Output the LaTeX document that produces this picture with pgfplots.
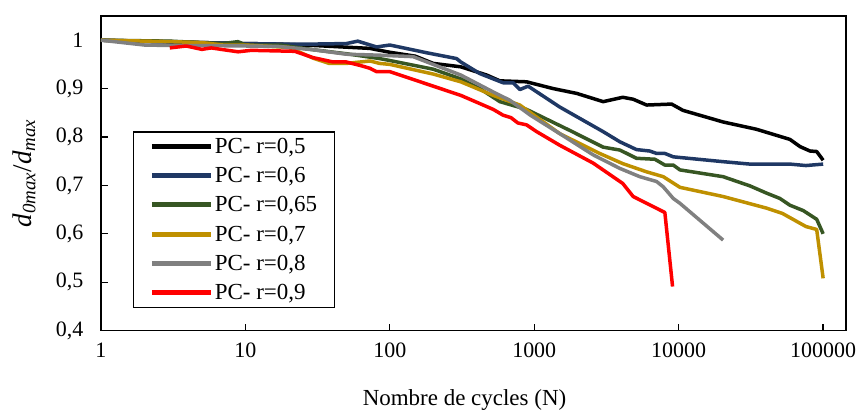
\documentclass[border=0pt]{standalone}
\usepackage{fontspec}
\setmainfont{Liberation Serif}
\usepackage{pgfplots}
\pgfplotsset{compat=1.18}
\usetikzlibrary{calc}
\definecolor{cblue}{HTML}{1F3864}
\definecolor{cgreen}{HTML}{375623}
\definecolor{cyellow}{HTML}{BF9000}
\definecolor{cgray}{HTML}{808080}
\definecolor{cred}{HTML}{FF0000}
\begin{document}
\begin{tikzpicture}
\begin{axis}[
  scale only axis,
  width=746pt, height=315pt,
  xmode=log, xmin=1, xmax=144000,
  ymin=0.4, ymax=1.05,
  xtick={1,10,100,1000,10000,100000},
  xticklabels={1,10,100,1000,10000,100000},
  xminorticks=false,
  ytick={0.4,0.5,0.6,0.7,0.8,0.9,1},
  /pgf/number format/assume math mode=true,
  /pgf/number format/use comma,
  yticklabel style={/pgf/number format/fixed,/pgf/number format/precision=1, xshift=-14pt},
  xticklabel style={yshift=-9pt},
  tick align=inside,
  xtick pos=bottom, ytick pos=left,
  major tick length=7pt,
  tick style={black, line width=1.4pt},
  axis line style={black, line width=1.6pt},
  ticklabel style={font=\fontsize{22}{25}\selectfont},
  label style={font=\fontsize{23}{26}\selectfont},
  xlabel={Nombre de cycles (N)},
  xlabel style={at={(axis description cs:0.488,-0.22)}, anchor=center},
  ylabel={\fontsize{27}{30}\selectfont\textit{d}\textsubscript{\textit{0max}}/\textit{d}\textsubscript{\textit{max}}},
  ylabel style={at={(axis description cs:-0.103,0.5)}, anchor=center},
  legend style={at={(axis description cs:0.0429,0.633)}, anchor=north west,
    font=\fontsize{23}{26}\selectfont, draw=black, line width=1.2pt,
    inner xsep=16pt, inner ysep=4pt, row sep=8.5pt,
    nodes={inner xsep=1.5pt},
    cells={anchor=west}},
  legend image code/.code={\draw[#1, line width=5pt] (0pt,0pt) -- (59pt,0pt);},
  every axis plot/.append style={line width=3.5pt, line join=round},
]
% r = 0.5
\addplot[black] coordinates {
(1,1) (2,0.998) (3,0.997) (5,0.995) (10,0.993) (17,0.992) (30,0.989) (47,0.986) (73,0.983) (100,0.975) (150,0.967) (200,0.952) (310,0.945) (468,0.928) (578,0.916) (885,0.914) (1352,0.90) (1970,0.89) (3000,0.873) (4100,0.882) (4840,0.878) (6000,0.866) (8930,0.868) (10700,0.855) (20300,0.831) (34500,0.816) (58900,0.795) (69300,0.78) (81100,0.771) (90200,0.770) (100000,0.752)
};
\addlegendentry{PC- r=0,5}
% r = 0.6
\addplot[cblue] coordinates {
(1,1) (2,0.997) (5,0.995) (10,0.993) (17.4,0.992) (30,0.992) (50,0.993) (60,0.998) (81,0.986) (100,0.99) (180,0.974) (290,0.962) (310,0.955) (420,0.931) (609,0.912) (715,0.912) (795,0.898) (907,0.905) (1500,0.862) (3000,0.811) (3920,0.79) (5100,0.774) (6300,0.771) (7030,0.766) (8020,0.766) (9170,0.759) (20300,0.749) (31100,0.744) (58900,0.744) (76000,0.741) (100000,0.744)
};
\addlegendentry{PC- r=0,6}
% r = 0.65
\addplot[cgreen] coordinates {
(1,1) (3,0.998) (5,0.995) (7,0.993) (8.9,0.997) (10,0.99) (17.4,0.99) (30,0.98) (50,0.972) (85,0.962) (100,0.958) (200,0.94) (310,0.92) (420,0.9) (578,0.873) (885,0.857) (1750,0.814) (3000,0.779) (3920,0.773) (5100,0.756) (6840,0.754) (8020,0.742) (9170,0.742) (10200,0.732) (20300,0.718) (31100,0.699) (40600,0.684) (50200,0.673) (58900,0.659) (72800,0.648) (90200,0.63) (100000,0.6)
};
\addlegendentry{PC- r=0,65}
% r = 0.7
\addplot[cyellow] coordinates {
(1,1) (3,0.997) (5,0.995) (7,0.99) (10,0.99) (20,0.985) (29.4,0.963) (38,0.952) (50,0.952) (73,0.957) (85,0.952) (100,0.95) (200,0.93) (310,0.914) (520,0.886) (795,0.866) (1500,0.807) (2840,0.766) (4100,0.745) (6000,0.728) (7820,0.718) (10200,0.696) (20300,0.677) (40600,0.653) (52300,0.642) (76000,0.615) (90200,0.609) (100000,0.508)
};
\addlegendentry{PC- r=0,7}
% r = 0.8
\addplot[cgray] coordinates {
(1,1) (2,0.99) (3,0.989) (5,0.989) (10,0.988) (17,0.987) (30,0.98) (50,0.971) (85,0.969) (145,0.966) (310,0.928) (520,0.893) (677,0.876) (940,0.845) (1500,0.807) (2560,0.763) (3920,0.735) (5380,0.718) (7030,0.708) (7820,0.697) (9170,0.673) (10200,0.663) (20300,0.587)
};
\addlegendentry{PC- r=0,8}
% r = 0.9
\addplot[cred] coordinates {
(3,0.984) (3.9,0.988) (5,0.981) (5.8,0.984) (8.9,0.976) (11,0.979) (22,0.977) (29.4,0.964) (40.5,0.955) (50,0.955) (62,0.948) (72.8,0.942) (81,0.935) (100,0.935) (310,0.886) (420,0.869) (520,0.857) (609,0.845) (690,0.84) (770,0.829) (885,0.825) (1040,0.811) (1500,0.783) (2560,0.746) (4100,0.704) (4840,0.677) (6000,0.663) (8020,0.644) (9070,0.491)
};
\addlegendentry{PC- r=0,9}
\end{axis}
\pgfresetboundingbox
\path ($(current axis.south west)+(-101pt,-79pt)$) rectangle ($(current axis.north east)+(14pt,16pt)$);
\end{tikzpicture}
\end{document}
